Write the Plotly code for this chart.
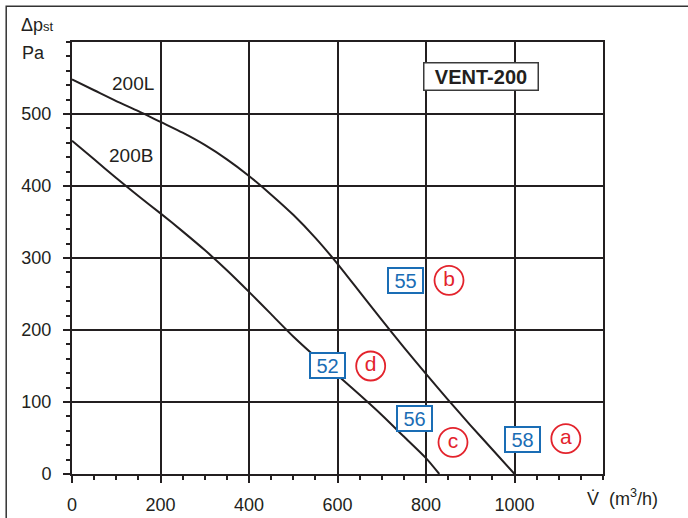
import plotly.graph_objects as go

# ---- data ----
curve_L_x = [0, 50, 100, 150, 200, 250, 300, 350, 400, 450, 500, 550, 600, 650, 700, 750, 800, 850, 900, 950, 1000]
curve_L_y = [548, 533, 518, 504, 489, 474, 457, 437, 414, 388, 360, 328, 292, 253, 214, 176, 139, 103, 68, 34, 0]
curve_B_x = [0, 50, 100, 150, 200, 250, 300, 350, 400, 450, 500, 550, 600, 650, 700, 750, 800, 830]
curve_B_y = [463, 437, 411, 386, 362, 337, 311, 283, 253, 222, 191, 163, 137, 110, 82, 52, 22, 0]
curve_names = ["200L", "200B"]
curve_label_x = [137, 133]
curve_label_y = [543, 443]

box_labels = ["55", "52", "56", "58"]
box_x = [754, 577, 773, 1018]
box_y = [269, 151, 77, 48]
circle_labels = ["b", "d", "c", "a"]
circle_x = [852, 675, 861, 1116]
circle_y = [269, 150, 44, 49]

x_ticks = [0, 200, 400, 600, 800, 1000]
y_ticks = [0, 100, 200, 300, 400, 500]

INK = "#231f20"
BLUE = "#1a6db5"
RED = "#e3232c"
FONT = "Liberation Sans, Arial, Helvetica, sans-serif"

fig = go.Figure()
for cx, cy in [(curve_L_x, curve_L_y), (curve_B_x, curve_B_y)]:
    fig.add_trace(go.Scatter(x=cx, y=cy, mode="lines",
                             line=dict(color=INK, width=2, shape="spline", smoothing=0.7),
                             hoverinfo="skip", showlegend=False))

fig.add_trace(go.Scatter(x=circle_x, y=circle_y, mode="markers+text",
                         text=circle_labels, textposition="middle center",
                         textfont=dict(family=FONT, size=21, color=RED),
                         marker=dict(symbol="circle", size=29, color="white",
                                     line=dict(color=RED, width=1.8)),
                         hoverinfo="skip", showlegend=False))

annotations = []
for name, lx, ly in zip(curve_names, curve_label_x, curve_label_y):
    annotations.append(dict(x=lx, y=ly, xref="x", yref="y", text=name, showarrow=False,
                            font=dict(family=FONT, size=19, color=INK)))
for lab, bx, by in zip(box_labels, box_x, box_y):
    annotations.append(dict(x=bx, y=by, xref="x", yref="y", text=lab, showarrow=False,
                            font=dict(family=FONT, size=20, color=BLUE),
                            bgcolor="white", bordercolor=BLUE, borderwidth=2, borderpad=0,
                            width=33, height=23))

annotations += [
    dict(x=0.8798, y=0.9532, xref="paper", yref="paper", text="<b>VENT-200</b>", showarrow=False,
         font=dict(family=FONT, size=20, color=INK), bgcolor="white",
         bordercolor="#3a3a3a", borderwidth=1.5, borderpad=1, width=111, height=24),
    dict(x=-0.0994, y=1.040, xref="paper", yref="paper", xanchor="left", yanchor="middle",
         text="Δp<span style='font-size:13px'>st</span>", showarrow=False,
         font=dict(family=FONT, size=18, color=INK)),
    dict(x=-0.0975, y=0.9745, xref="paper", yref="paper", xanchor="left", yanchor="middle",
         text="Pa", showarrow=False, font=dict(family=FONT, size=18, color=INK)),
    dict(x=0.9665, y=-0.054, xref="paper", yref="paper", xanchor="left", yanchor="middle",
         text="V\u0307  (m<sup>3</sup>/h)", showarrow=False,
         font=dict(family=FONT, size=18, color=INK)),
]

fig.update_layout(
    width=688, height=518,
    margin=dict(l=72, r=85, t=42, b=44, autoexpand=False),
    paper_bgcolor="white", plot_bgcolor="white",
    annotations=annotations,
    shapes=[dict(type="path", xref="paper", yref="paper",
                 path="M -0.1239 -0.2 L -0.1239 1.083 L 1.3 1.083",
                 line=dict(color="#333333", width=1.5))],
    font=dict(family=FONT, size=18, color=INK),
)
axis_common = dict(showline=True, linecolor=INK, linewidth=2, mirror=True,
                   showgrid=True, gridcolor=INK, gridwidth=2, zeroline=False,
                   ticks="outside", ticklen=7, tickwidth=2, tickcolor=INK, automargin=False,
                   tickfont=dict(family=FONT, size=18, color=INK))
fig.update_xaxes(range=[0, 1200], tickmode="array", tickvals=x_ticks, ticklabelstandoff=6,
                 minor=dict(dtick=50, tick0=0, ticks="outside", ticklen=4, tickwidth=1.5,
                            tickcolor=INK, showgrid=False),
                 **axis_common)
fig.update_yaxes(range=[0, 600], tickmode="array", tickvals=y_ticks, ticklabelstandoff=8,
                 minor=dict(dtick=20, tick0=0, ticks="outside", ticklen=4, tickwidth=1.5,
                            tickcolor=INK, showgrid=False),
                 **axis_common)

fig.write_html("out.html", config={"responsive": False, "displayModeBar": False},
               post_script="document.body.style.margin='0';document.body.style.overflow='hidden';")
